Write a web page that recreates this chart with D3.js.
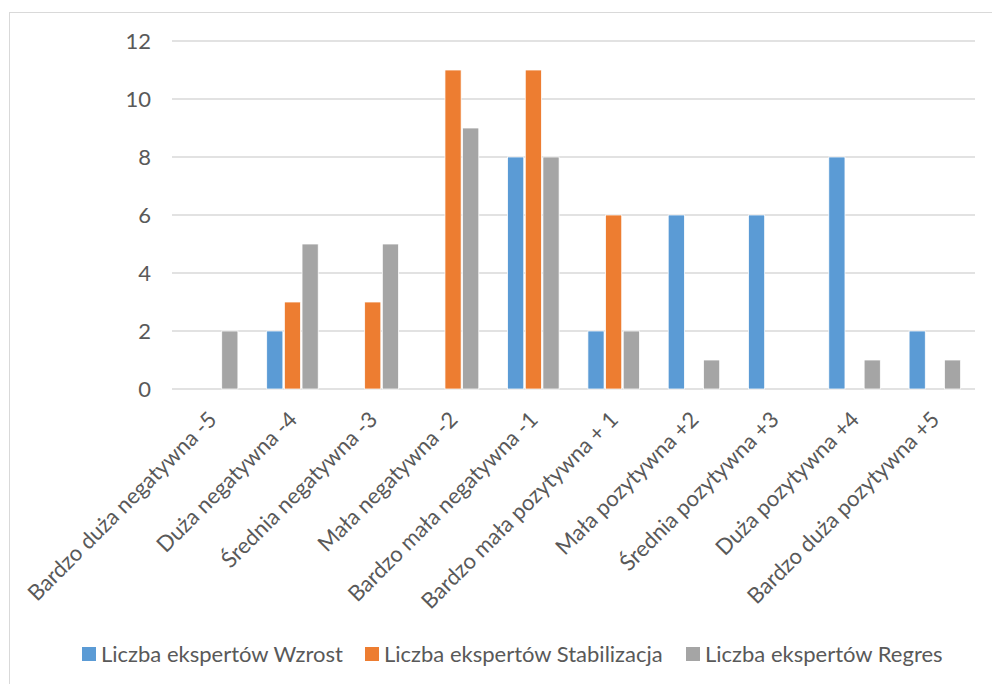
<!DOCTYPE html>
<html><head><meta charset="utf-8">
<script src="https://cdn.jsdelivr.net/npm/d3@7"></script>
<style>body{margin:0;background:#fff}</style>
</head><body>
<script>
const categories = ["Bardzo duża negatywna -5","Duża negatywna -4","Średnia negatywna -3","Mała negatywna -2","Bardzo mała negatywna -1","Bardzo mała pozytywna + 1","Mała pozytywna +2","Średnia pozytywna +3","Duża pozytywna +4","Bardzo duża pozytywna +5"];
const seriesNames = ["Liczba ekspertów Wzrost","Liczba ekspertów Stabilizacja","Liczba ekspertów Regres"];
const wzrost = [0,2,0,0,8,2,6,6,8,2];
const stabilizacja = [0,3,3,11,11,6,0,0,0,0];
const regres = [2,5,5,9,8,2,1,0,1,1];
const yTicks = [0,2,4,6,8,10,12];
const colors = ["#5B9BD5","#ED7D31","#A5A5A5"];

const W=992,H=684;
const svg=d3.select("body").append("svg").attr("width",W).attr("height",H);
const font="Lato, 'Open Sans', sans-serif";
const fs=22;
svg.append("rect").attr("x",9.5).attr("y",12.5).attr("width",1000).attr("height",700).attr("fill","none").attr("stroke","#d9d9d9").attr("stroke-width",1);

const x0=d3.scaleBand().domain(categories).range([172,975]).padding(0);
const groupW=53;
const x1=d3.scaleBand().domain([0,1,2]).range([(x0.bandwidth()-groupW)/2,(x0.bandwidth()+groupW)/2]).padding(0);
const y=d3.scaleLinear().domain([0,12]).range([389,41]);

const g=svg.append("g");
g.selectAll("line.grid").data(yTicks).join("line")
 .attr("x1",172).attr("x2",975).attr("y1",d=>y(d)).attr("y2",d=>y(d))
 .attr("stroke","#d9d9d9").attr("stroke-width",1.3);
g.selectAll("text.yt").data(yTicks).join("text")
 .attr("x",151).attr("y",d=>y(d)).attr("dy","0.36em").attr("text-anchor","end")
 .attr("font-family",font).attr("font-size",fs).attr("fill","#595959").text(d=>d);

const series=[wzrost,stabilizacja,regres];
series.forEach((vals,si)=>{
  g.selectAll("rect.s"+si).data(vals).join("rect")
   .attr("x",(d,i)=>x0(categories[i])+x1(si)+0.75)
   .attr("width",x1.bandwidth()-1.5)
   .attr("y",d=>y(d)).attr("height",d=>y(0)-y(d))
   .attr("fill",colors[si])
   .attr("stroke","#fff").attr("stroke-width",d=>d>0?0.75:0);
});

g.selectAll("text.xl").data(categories).join("text")
 .attr("transform",d=>`translate(${x0(d)+x0.bandwidth()/2+6},${421}) rotate(-45)`)
 .attr("text-anchor","end")
 .attr("font-family",font).attr("font-size",fs).attr("fill","#595959").text(d=>d);

const legX=[82,365,686];
seriesNames.forEach((n,i)=>{
  svg.append("rect").attr("x",legX[i]).attr("y",647).attr("width",14).attr("height",14).attr("fill",colors[i]);
  svg.append("text").attr("x",legX[i]+19).attr("y",654).attr("dy","0.36em")
   .attr("font-family",font).attr("font-size",fs).attr("fill","#595959").text(n);
});
</script>
</body></html>
